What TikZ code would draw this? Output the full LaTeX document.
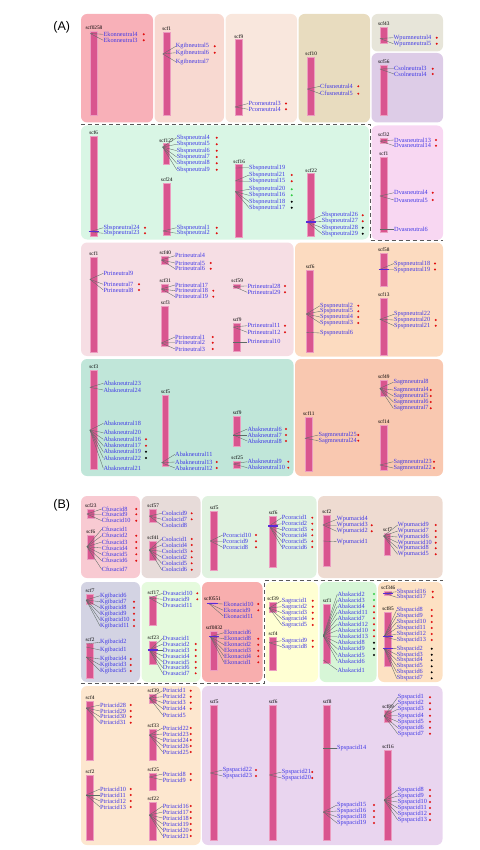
\documentclass[tikz,border=0pt]{standalone}
\usepackage{fontspec}
\setmainfont{Liberation Serif}
\newfontfamily\panelfont{Liberation Sans}
\usetikzlibrary{positioning}
\definecolor{chromfill}{HTML}{D9558F}
\definecolor{chromedge}{HTML}{EC9CC0}
\definecolor{genetext}{HTML}{4038E6}
\definecolor{locusblue}{HTML}{5A2BD6}
\definecolor{linkgray}{HTML}{5E6B66}
\definecolor{dotred}{HTML}{E01010}
\definecolor{dotgreen}{HTML}{33CC44}
% panel A fills
\definecolor{bxAekon}{HTML}{F8B0B8}
\definecolor{bxAkgib}{HTML}{F8D9D1}
\definecolor{bxApcor}{HTML}{F9E7DD}
\definecolor{bxAcfus}{HTML}{E8DCBF}
\definecolor{bxAwpum}{HTML}{E7E5D9}
\definecolor{bxAcsol}{HTML}{DDCCE7}
\definecolor{bxAsbsp}{HTML}{D9F6E5}
\definecolor{bxAdvas}{HTML}{F8D7F2}
\definecolor{bxAptri}{HTML}{F6DEE4}
\definecolor{bxAspsp}{HTML}{FCDBC0}
\definecolor{bxAabak}{HTML}{C0E6D9}
\definecolor{bxAsagm}{HTML}{F9C8B0}
% panel B fills
\definecolor{bxBcfus}{HTML}{F8CAD2}
\definecolor{bxBcsol}{HTML}{E7DBD9}
\definecolor{bxBpcor}{HTML}{E0F2E0}
\definecolor{bxBwpum}{HTML}{EEDBD1}
\definecolor{bxBkgib}{HTML}{D3D3E3}
\definecolor{bxBdvas}{HTML}{E5FADD}
\definecolor{bxBekon}{HTML}{F8AEAE}
\definecolor{bxBsagr}{HTML}{FFFFD3}
\definecolor{bxBabak}{HTML}{D7F6D7}
\definecolor{bxBsbsp}{HTML}{FDE1C3}
\definecolor{bxBptri}{HTML}{FDE7CF}
\definecolor{bxBspsp}{HTML}{E9D5EF}
\tikzset{
  chromo/.style={draw=chromedge, fill=chromfill, line width=1pt, minimum width=6.8pt, inner sep=0pt},
  scflab/.style={anchor=south, inner sep=0.6pt, yshift=0.6pt, font=\fontsize{5.3}{5.3}\selectfont},
  genelab/.style={anchor=west, inner sep=0pt, text=genetext, font=\fontsize{6.3}{6.3}\selectfont},
  genedot/.style={circle, inner sep=0pt, minimum size=2.2pt},
  dR/.style={fill=dotred}, dG/.style={fill=dotgreen}, dK/.style={fill=black}, dN/.style={},
  link/.style={draw=linkgray, line width=0.35pt},
  locus/.style={draw=locusblue, line width=1.5pt, shorten <=-1.2pt, shorten >=-1.2pt},
  panelbox/.style={rounded corners=6pt},
  divider/.style={draw=black!65, dash pattern=on 4pt off 3pt, line width=0.8pt},
  paneltag/.style={inner sep=0pt, font=\panelfont\fontsize{12.5}{12.5}\selectfont},
}
% chromosome bar: id, x, top, bottom, scaffold
\newcommand{\chrom}[5]{%
  \node[chromo, minimum height={(#4-#3)*1pt}] (#1) at (#2,{(#3+#4)/2}) {};
  \node[scflab] (#1n) at (#1.north) {#5};}
% genes: chromosome id, label x, dot x, list y/name/dot/from
\newcommand{\genes}[4]{%
  \foreach \gy/\gt/\gd/\gf in {#4}{%
    \node[genelab] (\gt) at (#2,\gy) {\gt};
    \node[genedot,\gd] (dot\gt) at (#3,\gy) {};
    \draw[link] (#1.west|-0,\gf) -- (\gt.west);
  }}
\newcommand{\locus}[2]{\draw[locus] (#1.west|-0,#2) -- (#1.east|-0,#2);}

\begin{document}
\begin{tikzpicture}[x=1pt, y=-1pt]
\useasboundingbox (0,0) rectangle (479,850);

\node[paneltag] (tagA) at (61.7,27.5) {(A)};
\node[paneltag] (tagB) at (61.7,505) {(B)};

% ---- panel A backgrounds
\fill[panelbox, fill=bxAekon] (81,14) rectangle (153,122.5);
\fill[panelbox, fill=bxAkgib] (154.5,14) rectangle (224,122.5);
\fill[panelbox, fill=bxApcor] (225.5,14) rectangle (297,122.5);
\fill[panelbox, fill=bxAcfus] (298.5,14) rectangle (370,122.5);
\fill[panelbox, fill=bxAwpum] (371.5,14) rectangle (443,51.5);
\fill[panelbox, fill=bxAcsol] (371.5,53) rectangle (443,122.5);
\fill[panelbox, fill=bxAsbsp] (81,125.5) rectangle (369,239.5);
\fill[panelbox, fill=bxAdvas] (371.5,125.5) rectangle (443,240);
\fill[panelbox, fill=bxAptri] (81,242.5) rectangle (293.5,356);
\fill[panelbox, fill=bxAspsp] (295,242.5) rectangle (443,356.5);
\fill[panelbox, fill=bxAabak] (81,359) rectangle (293.5,476);
\fill[panelbox, fill=bxAsagm] (295,359) rectangle (443,476);
\draw[divider] (81,124) -- (370,124) -- (370,240.5) -- (443,240.5);

% ---- panel B backgrounds
\fill[panelbox, fill=bxBcfus] (81,496) rectangle (140,578);
\fill[panelbox, fill=bxBcsol] (141.5,496) rectangle (200.5,578);
\fill[panelbox, fill=bxBpcor] (202,496) rectangle (316.5,578);
\fill[panelbox, fill=bxBwpum] (318,496) rectangle (442.5,578);
\fill[panelbox, fill=bxBkgib] (81,582) rectangle (140,682);
\fill[panelbox, fill=bxBdvas] (141.5,582) rectangle (200.5,682);
\fill[panelbox, fill=bxBekon] (202,582) rectangle (262.5,682);
\fill[panelbox, fill=bxBsagr] (265.5,582) rectangle (318,682);
\fill[panelbox, fill=bxBabak] (319.5,582) rectangle (376.5,682);
\fill[panelbox, fill=bxBsbsp] (378,582) rectangle (442.5,682);
\fill[panelbox, fill=bxBptri] (81,686) rectangle (200.5,845);
\fill[panelbox, fill=bxBspsp] (202,686) rectangle (442.5,845);
\draw[divider] (81,683.5) -- (264,683.5) -- (264,580) -- (443,580);

% ---- panel A, row 1
\chrom{a1}{94}{31.7}{116}{scf0258}
\genes{a1}{103.3}{143.7}{34.3/Ekonneutral4/dR/33.5, 40.3/Ekonneutral3/dR/33.5}
\chrom{a2}{166.7}{32.3}{116}{scf1}
\genes{a2}{175.7}{214.7}{46.3/Kgibneutral5/dR/54, 52.7/Kgibneutral6/dR/54, 61.7/Kgibneutral7/dN/54}
\chrom{a3}{238.8}{40}{116}{scf9}
\genes{a3}{248.3}{286}{103.5/Pcorneutral3/dR/107, 109.3/Pcorneutral4/dR/107}
\chrom{a4}{311.2}{57.3}{116}{scf10}
\genes{a4}{320}{358.3}{86.3/Cfusneutral4/dR/89, 93.7/Cfusneutral5/dR/89}
\chrom{a5}{383.8}{27.3}{44}{scf43}
\genes{a5}{393.3}{436.7}{37.7/Wpumneutral4/dR/38.5, 43.7/Wpumneutral5/dR/38.5}
\chrom{a6}{383.8}{65.7}{116}{scf56}
\genes{a6}{394}{432.7}{68.7/Csolneutral3/dR/69, 74/Csolneutral4/dR/69}

% ---- panel A, row 2
\chrom{a7}{93.7}{136.7}{236}{scf6}
\genes{a7}{103.3}{145}{227.7/Sbspneutral24/dR/231.7, 233.3/Sbspneutral23/dR/231.7}
\locus{a7}{231.7}
\chrom{a8}{166.5}{144}{164.3}{scf127}
\genes{a8}{176.7}{216.7}{137.7/Sbspneutral4/dR/147, 144.3/Sbspneutral5/dR/147,
  150.7/Sbspneutral6/dR/147, 157/Sbspneutral7/dR/147, 163.3/Sbspneutral8/dR/147,
  169.7/Sbspneutral9/dR/147}
\chrom{a9}{166.7}{183.3}{235}{scf24}
\genes{a9}{176.7}{216.7}{227.7/Sbspneutral1/dR/231, 233.3/Sbspneutral2/dR/231}
\chrom{a10}{239.2}{165}{237.3}{scf16}
\genes{a10}{249}{291.7}{167.7/Sbspneutral19/dN/168, 175/Sbspneutral21/dR/181,
  181.3/Sbspneutral15/dR/181, 189.3/Sbspneutral20/dG/191.7, 195.3/Sbspneutral16/dG/191.7,
  201.7/Sbspneutral18/dK/191.7, 207.7/Sbspneutral17/dK/191.7}
\chrom{a11}{311.2}{174}{236.7}{scf22}
\genes{a11}{321.7}{362.7}{215.3/Sbspneutral26/dR/222, 221.3/Sbspneutral27/dR/222,
  227.7/Sbspneutral28/dK/222, 233.7/Sbspneutral29/dK/222}
\locus{a11}{222}
\chrom{a12}{383.8}{138.3}{143.3}{scf32}
\genes{a12}{394}{436}{140/Dvasneutral13/dR/141, 145.7/Dvasneutral14/dR/141}
\chrom{a13}{383.8}{157.3}{232.7}{scf1}
\genes{a13}{394}{432.7}{192.7/Dvasneutral4/dR/196, 200/Dvasneutral5/dR/196,
  229.3/Dvasneutral6/dN/229.3}

% ---- panel A, row 3
\chrom{a14}{93.8}{257.7}{352.3}{scf1}
\genes{a14}{103.3}{139}{273.3/Ptrineutral9/dN/279.3, 284.3/Ptrineutral7/dR/279.3,
  290/Ptrineutral8/dR/279.3}
\chrom{a15}{165.3}{256}{264}{scf40}
\genes{a15}{175}{210.7}{255.7/Ptrineutral4/dN/260, 263/Ptrineutral5/dR/260,
  268.7/Ptrineutral6/dR/260}
\chrom{a16}{165.3}{284}{292.3}{scf31}
\genes{a16}{175}{213.3}{285/Ptrineutral17/dN/289, 290.7/Ptrineutral18/dR/289,
  296.7/Ptrineutral19/dR/289}
\chrom{a17}{165.3}{306.7}{346}{scf3}
\genes{a17}{175}{212.7}{337/Ptrineutral1/dR/343, 342.7/Ptrineutral2/dR/343,
  349/Ptrineutral3/dR/343}
\chrom{a18}{237.2}{284.3}{288.3}{scf59}
\genes{a18}{247.3}{285}{286/Ptrineutral28/dR/286.3, 292.3/Ptrineutral29/dR/286.3}
\chrom{a19}{237.2}{323.3}{351.7}{scf9}
\genes{a19}{247.3}{285}{325.7/Ptrineutral11/dR/327, 332.3/Ptrineutral12/dR/327,
  341.7/Ptrineutral10/dN/341.7}
\chrom{a20}{310.2}{270}{352.3}{scf6}
\genes{a20}{320}{358.3}{305.7/Spspneutral2/dR/314, 311.3/Spspneutral5/dR/314,
  317/Spspneutral4/dR/314, 323/Spspneutral3/dR/314, 333/Spspneutral6/dN/332.3}
\chrom{a21}{383.8}{253.3}{286.7}{scf58}
\genes{a21}{394}{435}{263.5/Spspneutral18/dR/269.3, 269.5/Spspneutral19/dR/269.3}
\locus{a21}{269.3}
\chrom{a22}{383.8}{298.3}{355}{scf13}
\genes{a22}{394}{435.7}{314.3/Spspneutral22/dN/319.3, 320/Spspneutral20/dR/319.3,
  325.7/Spspneutral21/dR/319.3}

% ---- panel A, row 4
\chrom{a23}{93.8}{370}{469}{scf3}
\genes{a23}{103.3}{146}{383.3/Abakneutral23/dN/387.3, 390/Abakneutral24/dN/387.3,
  423.3/Abakneutral18/dN/430, 432.7/Abakneutral20/dN/430, 439.3/Abakneutral16/dR/430,
  445.7/Abakneutral17/dR/430, 451.7/Abakneutral19/dK/430, 458/Abakneutral22/dK/430,
  468.3/Abakneutral21/dN/430}
\chrom{a24}{165.5}{395.7}{466.7}{scf5}
\genes{a24}{175}{216.7}{454.3/Abakneutral11/dN/462.7, 462/Abakneutral13/dR/462.7,
  468/Abakneutral12/dR/462.7}
\chrom{a25}{237.2}{416}{446}{scf9}
\genes{a25}{247.3}{286}{429/Abakneutral6/dR/435, 435/Abakneutral7/dR/435,
  441/Abakneutral8/dR/435}
\chrom{a26}{237.2}{461.7}{468.3}{scf25}
\genes{a26}{247.3}{288.3}{461.7/Abakneutral9/dR/464, 467.7/Abakneutral10/dR/464}
\chrom{a27}{308.8}{417.7}{471.7}{scf11}
\genes{a27}{318.3}{358.3}{435/Sagmneutral25/dR/438.3, 440.7/Sagmneutral24/dR/438.3}
\chrom{a28}{383.8}{380.7}{396.7}{scf49}
\genes{a28}{393.3}{430.7}{382.3/Sagmneutral8/dN/388.3, 390/Sagmneutral4/dR/388.3,
  396/Sagmneutral5/dR/388.3, 402/Sagmneutral6/dR/388.3, 408.3/Sagmneutral7/dR/388.3}
\chrom{a29}{383.8}{425}{470}{scf14}
\genes{a29}{393.3}{434}{461.7/Sagmneutral23/dR/465, 468/Sagmneutral22/dR/465}

% ---- panel B, row 1
\chrom{b1}{90.8}{509}{518.3}{scf23}
\genes{b1}{101.7}{136.3}{509/Cfusacid8/dR/514, 514.3/Cfusacid9/dR/514, 520.7/Cfusacid10/dR/514}
\chrom{b2}{90.8}{535}{559.3}{scf6}
\genes{b2}{101.7}{136.3}{529.3/Cfusacid1/dN/546.7, 535.7/Cfusacid2/dR/546.7,
  542/Cfusacid3/dR/546.7, 548/Cfusacid4/dR/546.7, 554.3/Cfusacid5/dR/546.7,
  560.7/Cfusacid6/dR/546.7, 569.3/Cfusacid7/dN/546.7}
\chrom{b3}{153.2}{509}{522.3}{scf57}
\genes{b3}{161.7}{191.7}{513.3/Csolacid9/dR/516, 519.3/Csolacid7/dR/516, 525.3/Csolacid8/dN/516}
\chrom{b4}{153.2}{541.7}{560}{scf41}
\genes{b4}{161.7}{191.7}{539/Csolacid1/dR/550, 545/Csolacid4/dR/550, 551.3/Csolacid3/dR/550,
  557.3/Csolacid2/dR/550, 563.3/Csolacid5/dR/550, 569.7/Csolacid6/dR/550}
\chrom{b5}{214.2}{511.7}{570}{scf5}
\genes{b5}{222.7}{256}{535/Pcoracid10/dR/541, 541.3/Pcoracid9/dR/541, 547.3/Pcoracid8/dR/541}
\chrom{b6}{273.2}{516.7}{567.3}{scf6}
\genes{b6}{281.7}{312.3}{517.7/Pcoracid1/dR/526, 523.7/Pcoracid2/dR/526, 529.7/Pcoracid3/dR/526,
  535.3/Pcoracid4/dR/526, 541.3/Pcoracid5/dR/526, 547/Pcoracid6/dR/526}
\locus{b6}{526}
\chrom{b7}{326.8}{515}{566.7}{scf2}
\genes{b7}{336.7}{371.7}{519.3/Wpumacid4/dN/525, 525.3/Wpumacid3/dR/525,
  531.3/Wpumacid2/dR/525, 541.7/Wpumacid1/dN/541}
\chrom{b8}{387.5}{533.3}{555.7}{scf7}
\genes{b8}{397.7}{435.7}{525/Wpumacid9/dR/536, 531/Wpumacid7/dR/536, 537/Wpumacid6/dR/536,
  542.7/Wpumacid10/dR/536, 548.3/Wpumacid8/dR/536, 554.3/Wpumacid5/dR/536}

% ---- panel B, row 2
\chrom{b9}{90}{594.3}{604}{scf7}
\genes{b9}{100}{134}{595.7/Kgibacid6/dN/600, 601.7/Kgibacid7/dR/600, 607.7/Kgibacid8/dR/600,
  613.7/Kgibacid9/dR/600, 620/Kgibacid10/dR/600, 626/Kgibacid11/dR/600}
\chrom{b10}{90}{643.3}{678.3}{scf2}
\genes{b10}{100}{130.7}{642.3/Kgibacid2/dN/644, 650/Kgibacid1/dN/647, 659/Kgibacid4/dR/657,
  665/Kgibacid3/dR/657, 671/Kgibacid5/dR/657}
\chrom{b11}{153.3}{596}{625}{scf17}
\genes{b11}{162.7}{197.3}{593.3/Dvasacid10/dR/598, 599.3/Dvasacid9/dR/598, 605.3/Dvasacid11/dN/598}
\chrom{b12}{153.3}{641}{664}{scf23}
\genes{b12}{162.7}{195.7}{638.3/Dvasacid1/dN/650, 644/Dvasacid2/dR/650, 650/Dvasacid3/dR/650,
  656/Dvasacid4/dR/650, 662/Dvasacid5/dR/650, 667.7/Dvasacid6/dR/650, 673.3/Dvasacid7/dR/650}
\locus{b12}{650}
\chrom{b13}{212.5}{602.5}{604.1}{scf0551}
\genes{b13}{223.3}{258.3}{604/Ekonacid10/dR/603.3, 610.3/Ekonacid9/dR/603.3, 616/Ekonacid11/dN/603.3}
\locus{b13}{603.3}
\chrom{b14}{214.2}{631}{670}{scf0832}
\genes{b14}{224}{258.3}{632.7/Ekonacid6/dN/636.7, 638.7/Ekonacid8/dR/636.7, 644.7/Ekonacid2/dR/636.7,
  650.7/Ekonacid3/dR/636.7, 656.3/Ekonacid4/dR/636.7, 662.3/Ekonacid1/dR/636.7}
\locus{b14}{636.7}
\chrom{b15}{273}{602.3}{612.7}{scf39}
\genes{b15}{281.7}{312.7}{600.7/Sagracid1/dR/608, 606.7/Sagracid2/dR/608, 612.7/Sagracid3/dR/608,
  618.7/Sagracid4/dR/608, 625/Sagracid5/dR/608}
\chrom{b16}{273}{637.3}{670}{scf4}
\genes{b16}{281.7}{312.7}{640.7/Sagracid9/dR/642.7, 646.7/Sagracid8/dR/642.7}
\chrom{b17}{327.2}{604}{663.3}{scf1}
\genes{b17}{337.3}{374}{594/Abakacid2/dG/636, 600/Abakacid3/dG/636, 606.3/Abakacid4/dR/636,
  612.3/Abakacid11/dR/636, 618.3/Abakacid7/dR/636, 624.3/Abakacid12/dR/636,
  630.3/Abakacid10/dR/636, 636.3/Abakacid13/dR/636, 642.7/Abakacid8/dK/636,
  648.7/Abakacid9/dK/636, 655/Abakacid5/dK/636, 661/Abakacid6/dN/636, 670/Abakacid1/dN/660}
\chrom{b18}{388.3}{591.7}{595}{scf346}
\genes{b18}{396.7}{432.7}{591.7/Sbspacid16/dR/593.3, 597.3/Sbspacid17/dR/593.3}
\locus{b18}{593.3}
\chrom{b19}{388}{612.3}{666.7}{scf85}
\genes{b19}{396.7}{431.7}{610/Sbspacid8/dR/636.7, 616/Sbspacid9/dR/636.7, 622/Sbspacid10/dR/636.7,
  628/Sbspacid11/dR/636.7, 634/Sbspacid12/dR/636.7, 640/Sbspacid13/dR/636.7,
  648.7/Sbspacid2/dK/648.3, 654.7/Sbspacid3/dK/648.3, 660.3/Sbspacid4/dK/648.3,
  666.3/Sbspacid5/dK/648.3, 672.3/Sbspacid6/dK/648.3, 678.3/Sbspacid7/dK/648.3}
\locus{b19}{636.7}
\locus{b19}{648.3}

% ---- panel B, row 3
\chrom{b20}{90}{701}{760}{scf4}
\genes{b20}{100}{130.7}{705/Ptriacid28/dR/708, 711/Ptriacid29/dR/708, 716.7/Ptriacid30/dR/708,
  722.7/Ptriacid31/dR/708}
\chrom{b21}{90}{775}{840}{scf2}
\genes{b21}{100}{130.7}{789/Ptriacid10/dR/795, 795/Ptriacid11/dR/795, 801/Ptriacid12/dR/795,
  807/Ptriacid13/dR/795}
\chrom{b22}{153.3}{694}{703.3}{scf39}
\genes{b22}{162.7}{190.7}{690.7/Ptriacid1/dR/698, 696.7/Ptriacid2/dR/698, 702.7/Ptriacid3/dR/698,
  708.7/Ptriacid4/dR/698, 715/Ptriacid5/dN/698}
\chrom{b23}{153.3}{729}{760}{scf33}
\genes{b23}{162.7}{190.7}{728/Ptriacid22/dR/735, 734/Ptriacid23/dR/735, 740/Ptriacid24/dR/735,
  746/Ptriacid26/dR/735, 752/Ptriacid25/dR/735}
\chrom{b24}{153.3}{773}{790}{scf25}
\genes{b24}{162.7}{190.7}{774/Ptriacid8/dR/777, 780/Ptriacid9/dR/777}
\chrom{b25}{153.3}{802}{840}{scf22}
\genes{b25}{162.7}{190.7}{806/Ptriacid16/dR/815, 812/Ptriacid17/dR/815, 818/Ptriacid18/dR/815,
  824/Ptriacid19/dR/815, 830/Ptriacid20/dR/815, 836/Ptriacid21/dR/815}
\chrom{b26}{214.2}{705}{840}{scf5}
\genes{b26}{222.7}{256}{770/Spspacid22/dR/773, 776/Spspacid23/dR/773}
\chrom{b27}{273.2}{705}{840}{scf6}
\genes{b27}{281.7}{312.3}{772/Spspacid21/dR/775, 778/Spspacid20/dR/775}
\chrom{b28}{327.2}{705}{840}{scf8}
\genes{b28}{337}{374}{748/Spspacid14/dN/748, 805/Spspacid15/dR/812, 811/Spspacid16/dR/812,
  817/Spspacid18/dR/812, 823/Spspacid19/dR/812}
\chrom{b29}{388}{710}{722}{scf89}
\genes{b29}{397.7}{430}{697.3/Spspacid1/dR/716, 703.3/Spspacid2/dR/716, 709.3/Spspacid3/dR/716,
  715.7/Spspacid4/dR/716, 721.7/Spspacid5/dR/716, 727.7/Spspacid6/dR/716, 733.7/Spspacid7/dR/716}
\chrom{b30}{388}{750}{840}{scf16}
\genes{b30}{397.7}{430}{790/Spspacid8/dR/800, 796/Spspacid9/dR/800, 802/Spspacid10/dR/800,
  808/Spspacid11/dR/800, 814/Spspacid12/dR/800, 820/Spspacid13/dR/800}
\end{tikzpicture}
\end{document}
